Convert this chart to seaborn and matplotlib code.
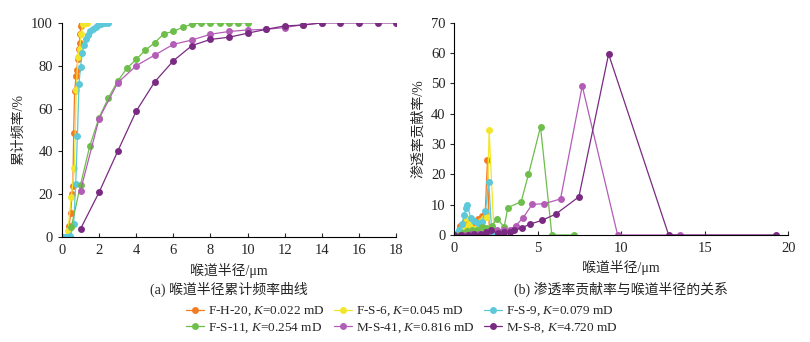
import numpy as np
import pandas as pd
import seaborn as sns
import matplotlib.pyplot as plt
from matplotlib.lines import Line2D

sns.set_style("ticks")
plt.rcParams['font.family'] = ['Liberation Serif', 'Noto Sans CJK SC']
plt.rcParams['mathtext.fontset'] = 'custom'
plt.rcParams['mathtext.it'] = 'Liberation Serif:italic'
plt.rcParams['mathtext.rm'] = 'Liberation Serif'

names = ['F-H-20', 'F-S-6', 'F-S-9', 'F-S-11', 'M-S-41', 'M-S-8']
perms = ['0.022', '0.045', '0.079', '0.254', '0.816', '4.720']
colors = ['#F47B20', '#F2E52A', '#5CC8DA', '#6DBE4B', '#B35DB7', '#7A2A82']

# (a) cumulative frequency
cum_x = {
    'F-H-20': [0.30, 0.38, 0.47, 0.54, 0.59, 0.63, 0.68, 0.76, 0.79, 0.86, 0.90, 0.95, 0.97, 1.03, 1.06, 1.10],
    'F-S-6': [0.32, 0.50, 0.67, 0.77, 0.86, 0.95, 1.04, 1.13, 1.22, 1.30, 1.37],
    'F-S-9': [0.05, 0.12, 0.20, 0.28, 0.36, 0.45, 0.63, 0.74, 0.83, 0.92, 1.00, 1.10, 1.17, 1.28,
              1.40, 1.53, 1.67, 1.82, 1.96, 2.12, 2.30, 2.48],
    'F-S-11': [0.5, 1.0, 1.5, 2.0, 2.5, 3.0, 3.5, 4.0, 4.5, 5.0, 5.5, 6.0, 6.5, 7.0, 7.5, 8.0, 8.5, 9.0, 9.5, 10.0],
    'M-S-41': [1, 2, 3, 4, 5, 6, 7, 8, 9, 10, 11, 12, 13, 14],
    'M-S-8': [1, 2, 3, 4, 5, 6, 7, 8, 9, 10, 11, 12, 13, 14, 15, 16, 17, 18],
}
cum_y = {
    'F-H-20': [0, 5, 11, 20, 24, 48.6, 68, 75, 78, 83, 87.6, 90.5, 95, 98.6, 100, 100],
    'F-S-6': [2.7, 18.6, 32, 68.6, 84, 88, 95, 99.4, 100, 100, 100],
    'F-S-9': [0, 0, 0, 0, 0, 0.5, 6, 24.8, 47, 71.7, 79.5, 86, 89.7, 92.3,
              94.4, 96, 97, 98, 99, 99.5, 100, 100],
    'F-S-11': [4.5, 24.4, 42.6, 55.8, 65, 72.8, 78.8, 83, 87.3, 90.8, 95, 96, 98, 99.4, 100, 100, 100, 100, 100, 100],
    'M-S-41': [21.7, 55.3, 72, 80, 85, 90, 92, 94.7, 96, 96.7, 97, 97.8, 99.2, 100],
    'M-S-8': [3.8, 20.9, 40, 58.8, 72.5, 82.3, 89.4, 92.3, 93.3, 95.2, 97, 98.6, 99, 100, 100, 100, 100, 100],
}

# (b) permeability contribution
con_x = {
    'F-H-20': [0.10, 0.34, 0.50, 0.64, 0.80, 0.95, 1.10, 1.24, 1.44, 1.64, 1.84, 1.98, 2.10],
    'F-S-6': [0.15, 0.40, 0.55, 0.70, 0.85, 1.00, 1.20, 1.40, 1.60, 1.80, 1.95, 2.08, 2.38],
    'F-S-9': [0.10, 0.30, 0.45, 0.60, 0.68, 0.78, 0.98, 1.18, 1.44, 1.64, 1.86, 2.06, 2.24, 2.40, 2.54],
    'F-S-11': [0.20, 0.50, 0.74, 1.04, 1.34, 1.64, 1.90, 2.24, 2.56, 2.98, 3.20, 4.00, 4.44, 5.16, 5.84, 7.16],
    'M-S-41': [0.00, 0.50, 1.00, 1.50, 2.00, 2.58, 3.00, 3.34, 3.68, 4.12, 4.66, 5.38, 6.36, 7.66, 9.78, 13.50],
    'M-S-8': [0.00, 0.40, 0.80, 1.20, 1.60, 1.90, 2.18, 2.60, 3.00, 3.34, 3.58, 4.06, 4.54, 5.24, 6.08, 7.46,
              9.24, 12.84, 19.30],
}
con_y = {
    'F-H-20': [0.2, 2.9, 3.5, 4.5, 3.0, 2.5, 3.2, 4.2, 5.3, 6.2, 6.7, 24.6, 0],
    'F-S-6': [0.3, 2.0, 3.0, 5.5, 3.5, 2.2, 2.0, 3.0, 4.5, 5.5, 6.0, 34.5, 0],
    'F-S-9': [0.2, 1.5, 3.5, 6.7, 8.9, 9.8, 5.5, 4.5, 4.0, 4.2, 8.0, 17.4, 0.6, 0, 0],
    'F-S-11': [0.1, 0.5, 1.4, 1.6, 1.8, 2.5, 2.2, 2.9, 5.4, 2.6, 9.0, 11.0, 20.0, 35.7, 0, 0],
    'M-S-41': [0.0, 0.1, 0.2, 0.4, 0.8, 1.8, 1.5, 1.8, 3.1, 5.7, 10.1, 10.3, 11.9, 49.2, 0, 0],
    'M-S-8': [0.0, 0.1, 0.1, 0.2, 0.4, 0.9, 1.5, 0.6, 0.9, 1.1, 1.5, 2.4, 3.6, 4.8, 6.9, 12.6,
              59.7, 0, 0],
}

fig = plt.figure(figsize=(8.1, 3.42), dpi=100)
ax1 = fig.add_axes([0.0765, 0.307, 0.4125, 0.626])
ax2 = fig.add_axes([0.561, 0.313, 0.412, 0.620])

handles = []
labels = []
for name, pk, c in zip(names, perms, colors):
    df1 = pd.DataFrame({'x': cum_x[name], 'y': cum_y[name]})
    sns.lineplot(data=df1, x='x', y='y', ax=ax1, color=c, marker='o', markersize=5,
                 markeredgewidth=0, linewidth=0.9, estimator=None, sort=False)
    df2 = pd.DataFrame({'x': con_x[name], 'y': con_y[name]})
    sns.lineplot(data=df2, x='x', y='y', ax=ax2, color=c, marker='o', markersize=5,
                 markeredgewidth=0, linewidth=0.9, estimator=None, sort=False)
    handles.append(Line2D([], [], color=c, marker='o', markersize=5, markeredgewidth=0, linewidth=0.9))
    labels.append(f'{name}, $K$=' + pk + ' mD')

for ax in (ax1, ax2):
    sns.despine(ax=ax)
    ax.tick_params(axis='x', direction='in', labelsize=10.5, length=3, pad=5)
    ax.tick_params(axis='y', direction='out', labelsize=10.5, length=3)
    for s in ax.spines.values():
        s.set_linewidth(0.8)
        s.set_color('black')

ax1.set_xlim(0, 18)
ax1.set_ylim(0, 100)
ax1.set_xticks(np.arange(0, 19, 2))
ax1.set_yticks(np.arange(0, 101, 20))
ax1.set_xlabel('喉道半径/μm', fontsize=10, labelpad=4)
ax1.set_ylabel('累计频率/%', fontsize=10, labelpad=4)

ax2.set_xlim(0, 20)
ax2.set_ylim(0, 70)
ax2.set_xticks(np.arange(0, 21, 5))
ax2.set_yticks(np.arange(0, 71, 10))
ax2.set_xlabel('喉道半径/μm', fontsize=10, labelpad=4)
ax2.set_ylabel('渗透率贡献率/%', fontsize=10, labelpad=4)

fig.text(0.282, 0.155, '(a) 喉道半径累计频率曲线', ha='center', va='center', fontsize=10)
fig.text(0.767, 0.155, '(b) 渗透率贡献率与喉道半径的关系', ha='center', va='center', fontsize=10)

order = [0, 3, 1, 4, 2, 5]
fig.legend([handles[i] for i in order], [labels[i] for i in order],
           loc='center', bbox_to_anchor=(0.496, 0.065), ncol=3, frameon=False,
           fontsize=9.5, handlelength=1.4, handletextpad=0.3, columnspacing=0.7,
           labelspacing=0.2, borderpad=0.2)

fig.savefig('out.png', dpi=100)
